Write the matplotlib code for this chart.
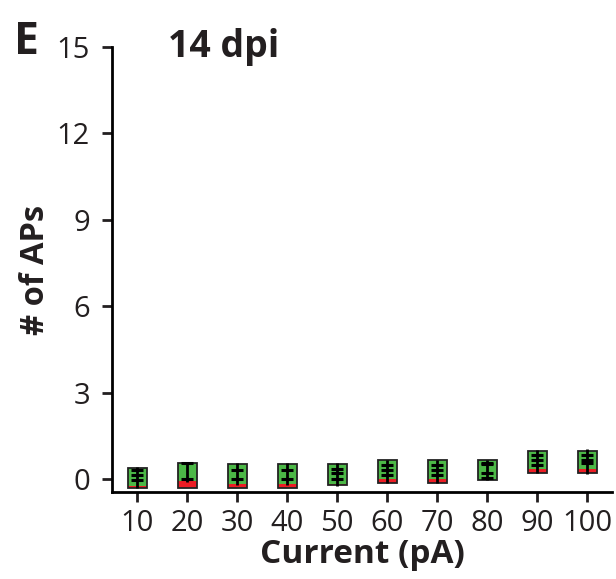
import matplotlib.pyplot as plt
import numpy as np

# values (# of APs vs injected current)
current = [10, 20, 30, 40, 50, 60, 70, 80, 90, 100]
box_top = [0.39, 0.57, 0.51, 0.51, 0.51, 0.66, 0.66, 0.66, 0.98, 0.98]
box_bottom = [-0.30, -0.30, -0.30, -0.30, -0.21, -0.13, -0.13, -0.03, 0.20, 0.20]
green_bottom = [-0.22, -0.07, -0.15, -0.15, -0.15, 0.00, 0.00, -0.03, 0.35, 0.37]
whisker_hi = [0.43, 0.60, 0.55, 0.55, 0.55, 0.68, 0.68, 0.68, 1.01, 1.03]
whisker_lo = [-0.31, -0.09, -0.21, -0.21, -0.24, -0.13, -0.13, -0.03, 0.20, 0.17]
bar_lines = [
    [0.31, 0.14, -0.03],
    [0.57, 0.02],
    [0.31, 0.02],
    [0.31, 0.02],
    [0.37, 0.20, 0.02],
    [0.49, 0.31, 0.14],
    [0.49, 0.31, 0.14],
    [0.56, 0.52, 0.21, 0.03],
    [0.83, 0.66, 0.49],
    [0.83, 0.66, 0.55],
]

plt.rcParams['font.family'] = ['Open Sans', 'DejaVu Sans']
ink = '#231f20'

fig = plt.figure(figsize=(6.16, 5.79), dpi=100)
ax = fig.add_axes([0.182, 0.150, 0.812, 0.769])

x = np.array(current)
bw = 3.8
top = np.array(box_top)
bot = np.array(box_bottom)
gb = np.array(green_bottom)

ax.bar(x, gb - bot, bottom=bot, width=bw, color='#ed1c24', linewidth=0, zorder=2)
ax.bar(x, top - gb, bottom=gb, width=bw, color='#4cb847', linewidth=0, zorder=2)
ax.bar(x, top - bot, bottom=bot, width=bw, fill=False, edgecolor='#222222',
       linewidth=1.3, zorder=3)
ax.vlines(x, whisker_lo, whisker_hi, color='black', linewidth=2, zorder=4)
for xi, ys in zip(current, bar_lines):
    ax.hlines(ys, xi - 1.2, xi + 1.2, color='black', linewidth=2.2, zorder=4)

ax.set_xlim(5, 105)
ax.set_ylim(-0.45, 15)
ax.set_yticks([0, 3, 6, 9, 12, 15])
ax.set_xticks(current)

for s in ['top', 'right']:
    ax.spines[s].set_visible(False)
for s in ['left', 'bottom']:
    ax.spines[s].set_linewidth(2)

ax.tick_params(axis='both', width=2, length=7, labelsize=21, colors=ink)
ax.tick_params(axis='y', pad=9)
ax.tick_params(axis='x', pad=5)

ax.set_xlabel('Current (pA)', fontsize=24, fontweight='bold', color=ink, labelpad=0)
ax.set_ylabel('# of APs', fontsize=23.5, fontweight='bold', color=ink, labelpad=3)

fig.text(0.272, 0.918, '14 dpi', fontsize=27, fontweight='bold', color=ink,
         va='center')
fig.text(0.022, 0.927, 'E', fontsize=32, fontweight='bold', color=ink, va='center')

fig.savefig('out.png', dpi=100)
